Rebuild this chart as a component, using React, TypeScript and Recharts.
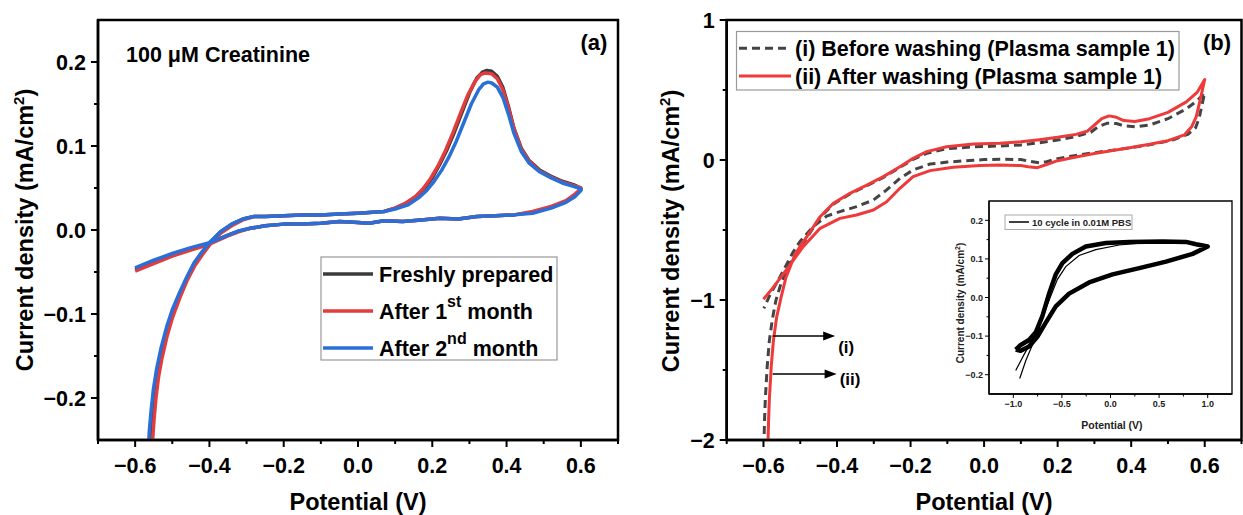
import React from 'react'
import { LineChart, Line, XAxis, YAxis, ReferenceArea, ReferenceLine } from 'recharts'

type Pt = [number, number]

// (a) 100 µM creatinine — potential (V), current density (mA/cm2), one closed scan each
const freshScan: Pt[] = [
  [-0.6, -0.047], [-0.55, -0.038], [-0.5, -0.03], [-0.45, -0.023], [-0.4, -0.016], [-0.37, -0.01],
  [-0.35, -0.006], [-0.32, -0.001], [-0.29, 0.002], [-0.25, 0.005], [-0.2, 0.007], [-0.15, 0.007],
  [-0.1, 0.008], [-0.05, 0.01], [0, 0.009], [0.03, 0.008], [0.07, 0.011], [0.12, 0.01], [0.17, 0.012],
  [0.22, 0.014], [0.27, 0.013], [0.32, 0.016], [0.37, 0.017], [0.42, 0.018], [0.47, 0.021], [0.52, 0.027],
  [0.56, 0.034], [0.585, 0.042], [0.6, 0.048], [0.6, 0.05], [0.58, 0.054], [0.55, 0.058], [0.52, 0.064],
  [0.49, 0.071], [0.46, 0.083], [0.44, 0.097], [0.42, 0.121], [0.405, 0.147], [0.39, 0.17], [0.375, 0.183],
  [0.36, 0.189], [0.347, 0.19], [0.335, 0.188], [0.32, 0.181], [0.3, 0.163], [0.28, 0.14], [0.26, 0.117],
  [0.24, 0.096], [0.22, 0.078], [0.2, 0.062], [0.18, 0.05], [0.16, 0.041], [0.13, 0.032], [0.1, 0.026],
  [0.07, 0.022], [0.04, 0.021], [0, 0.02], [-0.05, 0.019], [-0.1, 0.018], [-0.15, 0.018], [-0.2, 0.017],
  [-0.25, 0.016], [-0.28, 0.016], [-0.31, 0.013], [-0.34, 0.007], [-0.37, -0.002], [-0.4, -0.016],
  [-0.42, -0.028], [-0.44, -0.04], [-0.46, -0.057], [-0.48, -0.078], [-0.5, -0.1], [-0.515, -0.122],
  [-0.53, -0.148], [-0.54, -0.17], [-0.548, -0.195], [-0.554, -0.22], [-0.558, -0.245], [-0.561, -0.27],
]

const month1Scan: Pt[] = [
  [-0.6, -0.049], [-0.55, -0.04], [-0.5, -0.031], [-0.45, -0.024], [-0.4, -0.017], [-0.37, -0.011],
  [-0.35, -0.007], [-0.32, -0.002], [-0.29, 0.002], [-0.25, 0.005], [-0.2, 0.007], [-0.15, 0.007],
  [-0.1, 0.008], [-0.05, 0.01], [0, 0.009], [0.03, 0.008], [0.07, 0.011], [0.12, 0.01], [0.17, 0.012],
  [0.22, 0.014], [0.27, 0.013], [0.32, 0.016], [0.37, 0.017], [0.42, 0.018], [0.47, 0.022], [0.52, 0.028],
  [0.56, 0.035], [0.585, 0.043], [0.6, 0.049], [0.6, 0.05], [0.58, 0.053], [0.55, 0.057], [0.52, 0.063],
  [0.49, 0.07], [0.46, 0.082], [0.44, 0.096], [0.42, 0.12], [0.405, 0.145], [0.39, 0.167], [0.375, 0.18],
  [0.36, 0.186], [0.343, 0.187], [0.33, 0.185], [0.315, 0.177], [0.295, 0.16], [0.275, 0.138],
  [0.255, 0.115], [0.235, 0.094], [0.215, 0.076], [0.195, 0.061], [0.175, 0.049], [0.155, 0.04],
  [0.125, 0.031], [0.1, 0.026], [0.07, 0.022], [0.04, 0.021], [0, 0.02], [-0.05, 0.019], [-0.1, 0.018],
  [-0.15, 0.018], [-0.2, 0.017], [-0.25, 0.016], [-0.28, 0.016], [-0.31, 0.012], [-0.34, 0.005],
  [-0.37, -0.004], [-0.4, -0.018], [-0.42, -0.03], [-0.44, -0.043], [-0.46, -0.06], [-0.48, -0.081],
  [-0.5, -0.105], [-0.515, -0.128], [-0.528, -0.153], [-0.537, -0.175], [-0.544, -0.2], [-0.549, -0.225],
  [-0.553, -0.25], [-0.556, -0.27],
]

const month2Scan: Pt[] = [
  [-0.6, -0.045], [-0.55, -0.036], [-0.5, -0.028], [-0.45, -0.021], [-0.4, -0.015], [-0.37, -0.01],
  [-0.35, -0.006], [-0.32, -0.001], [-0.29, 0.002], [-0.25, 0.005], [-0.2, 0.007], [-0.15, 0.007],
  [-0.1, 0.008], [-0.05, 0.01], [0, 0.009], [0.03, 0.008], [0.07, 0.011], [0.12, 0.01], [0.17, 0.012],
  [0.22, 0.014], [0.27, 0.013], [0.32, 0.016], [0.37, 0.017], [0.42, 0.018], [0.47, 0.02], [0.52, 0.026],
  [0.56, 0.033], [0.585, 0.04], [0.6, 0.047], [0.6, 0.049], [0.58, 0.052], [0.55, 0.056], [0.52, 0.062],
  [0.49, 0.069], [0.46, 0.08], [0.44, 0.093], [0.42, 0.115], [0.405, 0.138], [0.39, 0.158], [0.375, 0.17],
  [0.36, 0.175], [0.35, 0.176], [0.338, 0.174], [0.325, 0.167], [0.305, 0.15], [0.285, 0.128],
  [0.265, 0.106], [0.245, 0.087], [0.225, 0.071], [0.205, 0.058], [0.185, 0.047], [0.165, 0.039],
  [0.135, 0.03], [0.1, 0.025], [0.07, 0.022], [0.04, 0.021], [0, 0.02], [-0.05, 0.019], [-0.1, 0.018],
  [-0.15, 0.018], [-0.2, 0.017], [-0.25, 0.016], [-0.28, 0.016], [-0.31, 0.013], [-0.34, 0.007],
  [-0.37, -0.002], [-0.4, -0.015], [-0.42, -0.026], [-0.44, -0.038], [-0.46, -0.055], [-0.48, -0.074],
  [-0.5, -0.095], [-0.515, -0.115], [-0.53, -0.14], [-0.542, -0.165], [-0.551, -0.19], [-0.557, -0.215],
  [-0.562, -0.24], [-0.565, -0.27],
]

// (b) plasma sample 1
const beforeWashScan: Pt[] = [
  [-0.599, -2.05], [-0.597, -1.85], [-0.595, -1.71], [-0.59, -1.48], [-0.584, -1.29], [-0.576, -1.14],
  [-0.566, -1.0], [-0.552, -0.88], [-0.536, -0.78], [-0.519, -0.7], [-0.482, -0.555], [-0.446, -0.41],
  [-0.41, -0.315], [-0.365, -0.243], [-0.319, -0.184], [-0.274, -0.124], [-0.229, -0.053], [-0.193, 0.005],
  [-0.156, 0.048], [-0.102, 0.08], [-0.029, 0.094], [0.043, 0.1], [0.1, 0.108], [0.15, 0.123], [0.2, 0.143],
  [0.25, 0.168], [0.29, 0.198], [0.31, 0.238], [0.335, 0.263], [0.36, 0.26], [0.38, 0.244], [0.41, 0.237],
  [0.45, 0.25], [0.5, 0.295], [0.55, 0.365], [0.58, 0.425], [0.6, 0.48], [0.593, 0.4], [0.585, 0.3],
  [0.575, 0.23], [0.555, 0.185], [0.52, 0.15], [0.5, 0.135], [0.45, 0.108], [0.4, 0.088], [0.35, 0.07],
  [0.3, 0.052], [0.25, 0.033], [0.2, 0.01], [0.17, -0.012], [0.15, -0.02], [0.125, -0.01], [0.1, 0.003],
  [0.05, 0.006], [0, 0.003], [-0.03, -0.002], [-0.1, -0.015], [-0.147, -0.029], [-0.193, -0.071],
  [-0.229, -0.131], [-0.265, -0.214], [-0.301, -0.286], [-0.347, -0.333], [-0.392, -0.369], [-0.428, -0.4],
  [-0.465, -0.476], [-0.501, -0.583], [-0.52, -0.66], [-0.54, -0.76], [-0.56, -0.86], [-0.58, -0.95],
  [-0.599, -1.06],
]

const afterWashScan: Pt[] = [
  [-0.588, -2.05], [-0.586, -1.85], [-0.584, -1.71], [-0.579, -1.48], [-0.573, -1.29], [-0.564, -1.12],
  [-0.552, -0.98], [-0.539, -0.84], [-0.527, -0.76], [-0.515, -0.68], [-0.5, -0.615], [-0.482, -0.548],
  [-0.446, -0.405], [-0.41, -0.31], [-0.365, -0.238], [-0.319, -0.179], [-0.274, -0.119], [-0.229, -0.048],
  [-0.193, 0.012], [-0.156, 0.06], [-0.102, 0.095], [-0.029, 0.114], [0.043, 0.119], [0.1, 0.13],
  [0.15, 0.145], [0.2, 0.162], [0.25, 0.183], [0.28, 0.205], [0.3, 0.25], [0.32, 0.295], [0.34, 0.315],
  [0.36, 0.305], [0.38, 0.282], [0.41, 0.275], [0.45, 0.295], [0.5, 0.34], [0.55, 0.415], [0.58, 0.485],
  [0.6, 0.575], [0.592, 0.48], [0.585, 0.4], [0.577, 0.31], [0.565, 0.24], [0.545, 0.18], [0.5, 0.138],
  [0.45, 0.112], [0.4, 0.09], [0.35, 0.068], [0.3, 0.046], [0.25, 0.022], [0.2, -0.005], [0.17, -0.032],
  [0.145, -0.055], [0.12, -0.048], [0.1, -0.04], [0.043, -0.036], [-0.011, -0.04], [-0.084, -0.052],
  [-0.147, -0.076], [-0.193, -0.119], [-0.229, -0.202], [-0.265, -0.298], [-0.301, -0.357], [-0.347, -0.393],
  [-0.392, -0.417], [-0.446, -0.488], [-0.492, -0.619], [-0.52, -0.72], [-0.548, -0.82], [-0.575, -0.915],
  [-0.6, -0.995],
]

// inset: 10 cycles in 0.01 M PBS
const pbsLoop: Pt[] = [
  [-0.975, -0.135], [-0.924, -0.123], [-0.838, -0.11], [-0.769, -0.09], [-0.701, -0.048], [-0.632, 0.01],
  [-0.563, 0.06], [-0.495, 0.089], [-0.392, 0.113], [-0.254, 0.132], [-0.047, 0.141], [0.193, 0.144],
  [0.536, 0.145], [0.777, 0.144], [0.88, 0.138], [1.0, 0.132], [0.845, 0.113], [0.571, 0.093],
  [0.296, 0.076], [0.021, 0.06], [-0.22, 0.039], [-0.426, 0.01], [-0.563, -0.023], [-0.666, -0.065],
  [-0.753, -0.102], [-0.838, -0.127], [-0.924, -0.138], [-0.975, -0.135],
]
const pbsFirstCycle: Pt[] = [
  [-0.975, -0.189], [-0.89, -0.148], [-0.804, -0.11], [-0.718, -0.065], [-0.632, -0.007], [-0.546, 0.047],
  [-0.46, 0.08], [-0.323, 0.109], [-0.151, 0.124], [0.09, 0.136], [0.365, 0.142], [0.5, 0.144],
]
const pbsTail: Pt[] = [[-0.934, -0.21], [-0.872, -0.164], [-0.804, -0.123], [-0.76, -0.1]]

// axes
const potTicks = [-0.7, -0.6, -0.5, -0.4, -0.3, -0.2, -0.1, 0, 0.1, 0.2, 0.3, 0.4, 0.5, 0.6, 0.7]
const potMajor = [-0.6, -0.4, -0.2, 0, 0.2, 0.4, 0.6]
const potLabels = ['−0.6', '−0.4', '−0.2', '0.0', '0.2', '0.4', '0.6']
const aCurTicks = [-0.2, -0.15, -0.1, -0.05, 0, 0.05, 0.1, 0.15, 0.2]
const aCurMajor = [-0.2, -0.1, 0, 0.1, 0.2]
const aCurLabels = ['−0.2', '−0.1', '0.0', '0.1', '0.2']
const bCurTicks = [-2, -1.5, -1, -0.5, 0, 0.5, 1]
const bCurMajor = [-2, -1, 0, 1]
const bCurLabels = ['−2', '−1', '0', '1']
const insetPotTicks = [-1, -0.75, -0.5, -0.25, 0, 0.25, 0.5, 0.75, 1]
const insetPotMajor = [-1, -0.5, 0, 0.5, 1]
const insetPotLabels = ['−1.0', '−0.5', '0.0', '0.5', '1.0']
const insetCurTicks = [-0.2, -0.15, -0.1, -0.05, 0, 0.05, 0.1, 0.15, 0.2]
const insetCurMajor = [-0.2, -0.1, 0, 0.1, 0.2]
const insetCurLabels = ['−0.2', '−0.1', '0.0', '0.1', '0.2']

const arrows = [
  { label: '(i)', from: -0.575, to: -0.405, j: -1.257 },
  { label: '(ii)', from: -0.575, to: -0.401, j: -1.529 },
]
const arrowLabelDy: Record<string, number> = { '(i)': 17, '(ii)': 11 }

const aLegend = [
  { base: 'Freshly prepared', sup: '', rest: '', color: '#3b3b3b' },
  { base: 'After 1', sup: 'st', rest: ' month', color: '#e23c3c' },
  { base: 'After 2', sup: 'nd', rest: ' month', color: '#2a6fd8' },
]
const bLegend = [
  { name: '(i) Before washing (Plasma sample 1)', color: '#444', dash: '8 5' },
  { name: '(ii) After washing (Plasma sample 1)', color: '#ee3a3a', dash: undefined },
]

const rows = (pts: Pt[]) => pts.map(([e, j]) => ({ e, j }))
const near = (a: number, b: number) => Math.abs(a - b) < 1e-6

type TickOpt = {
  majors: number[]
  labels: string[]
  size: number
  major: number
  minor: number
  gap: number
  sw: number
  color: string
}

// tickSize and tickMargin are 0, so x/y arrive on the axis line itself
const bottomTick = (o: TickOpt) => (p: any) => {
  const k = o.majors.findIndex((m) => near(m, p.payload.value))
  return (
    <g>
      <line x1={p.x} y1={p.y} x2={p.x} y2={p.y + (k >= 0 ? o.major : o.minor)} stroke="#000" strokeWidth={o.sw} />
      {k >= 0 && (
        <text x={p.x} y={p.y + o.gap} textAnchor="middle" fontSize={o.size} fontWeight="bold" fill={o.color}>
          {o.labels[k]}
        </text>
      )}
    </g>
  )
}

const leftTick = (o: TickOpt) => (p: any) => {
  const k = o.majors.findIndex((m) => near(m, p.payload.value))
  return (
    <g>
      <line x1={p.x} y1={p.y} x2={p.x - (k >= 0 ? o.major : o.minor)} y2={p.y} stroke="#000" strokeWidth={o.sw} />
      {k >= 0 && (
        <text x={p.x - o.gap} y={p.y + o.size * 0.36} textAnchor="end" fontSize={o.size} fontWeight="bold" fill={o.color}>
          {o.labels[k]}
        </text>
      )}
    </g>
  )
}

const mainTick = { size: 21.5, major: 7, minor: 4, sw: 2, color: '#000' }
const insetTick = { size: 9, major: 4, minor: 2.5, sw: 1, color: '#222' }

const arrowShape = (label: string) => (p: any) => (
  <g>
    <line x1={p.x1} y1={p.y1} x2={p.x2 - 8} y2={p.y2} stroke="#000" strokeWidth={1.6} />
    <polygon points={`${p.x2},${p.y2} ${p.x2 - 12},${p.y2 - 4.5} ${p.x2 - 12},${p.y2 + 4.5}`} fill="#000" />
    <text x={p.x2 + 3} y={p.y2 + arrowLabelDy[label]} fontSize={17} fontWeight="bold" fill="#000">
      {label}
    </text>
  </g>
)

export default function App() {
  const font = "'Liberation Sans', Arial, Helvetica, sans-serif"
  return (
    <div style={{ position: 'absolute', left: 0, top: 0, width: 1243, height: 515, background: '#fff', fontFamily: font, overflow: 'hidden' }}>
      {/* panel (a) */}
      <div style={{ position: 'absolute', left: 0, top: 0 }}>
        <LineChart width={640} height={515} margin={{ top: 20, right: 22, bottom: 35, left: 38 }}>
          <XAxis
            dataKey="e"
            type="number"
            domain={[-0.7, 0.7]}
            allowDataOverflow
            ticks={potTicks}
            interval={0}
            height={40}
            tickSize={0}
            tickMargin={0}
            axisLine={{ stroke: '#000', strokeWidth: 2.5 }}
            tick={bottomTick({ ...mainTick, majors: potMajor, labels: potLabels, gap: 32.5 })}
          />
          <YAxis
            dataKey="j"
            type="number"
            domain={[-0.25, 0.25]}
            allowDataOverflow
            ticks={aCurTicks}
            interval={0}
            width={60}
            tickSize={0}
            tickMargin={0}
            axisLine={{ stroke: '#000', strokeWidth: 2.5 }}
            tick={leftTick({ ...mainTick, majors: aCurMajor, labels: aCurLabels, gap: 12 })}
          />
          <ReferenceArea x1={-0.7} x2={0.7} y1={-0.25} y2={0.25} fill="none" stroke="#000" strokeWidth={2.5} />
          <Line data={rows(freshScan)} dataKey="j" type="linear" stroke="#3b3b3b" strokeWidth={3.5} dot={false} activeDot={false} isAnimationActive={false} strokeLinejoin="round" />
          <Line data={rows(month1Scan)} dataKey="j" type="linear" stroke="#e23c3c" strokeWidth={3.5} dot={false} activeDot={false} isAnimationActive={false} strokeLinejoin="round" />
          <Line data={rows(month2Scan)} dataKey="j" type="linear" stroke="#2a6fd8" strokeWidth={3.5} dot={false} activeDot={false} isAnimationActive={false} strokeLinejoin="round" />
        </LineChart>
      </div>

      {/* panel (b) */}
      <div style={{ position: 'absolute', left: 640, top: 0 }}>
        <LineChart width={603} height={515} margin={{ top: 20, right: 1.5, bottom: 35, left: 26.7 }}>
          <XAxis
            dataKey="e"
            type="number"
            domain={[-0.7, 0.7]}
            allowDataOverflow
            ticks={potTicks}
            interval={0}
            height={40}
            tickSize={0}
            tickMargin={0}
            axisLine={{ stroke: '#000', strokeWidth: 2.5 }}
            tick={bottomTick({ ...mainTick, majors: potMajor, labels: potLabels, gap: 32.5 })}
          />
          <YAxis
            dataKey="j"
            type="number"
            domain={[-2, 1]}
            allowDataOverflow
            ticks={bCurTicks}
            interval={0}
            width={60}
            tickSize={0}
            tickMargin={0}
            axisLine={{ stroke: '#000', strokeWidth: 2.5 }}
            tick={leftTick({ ...mainTick, majors: bCurMajor, labels: bCurLabels, gap: 12 })}
          />
          <ReferenceArea x1={-0.7} x2={0.7} y1={-2} y2={1} fill="none" stroke="#000" strokeWidth={2.5} />
          <Line data={rows(beforeWashScan)} dataKey="j" type="linear" stroke="#444" strokeWidth={3} strokeDasharray="8 5" dot={false} activeDot={false} isAnimationActive={false} />
          <Line data={rows(afterWashScan)} dataKey="j" type="linear" stroke="#ee3a3a" strokeWidth={3} dot={false} activeDot={false} isAnimationActive={false} strokeLinejoin="round" />
          {arrows.map((a) => (
            <ReferenceLine
              key={a.label}
              segment={[{ x: a.from, y: a.j }, { x: a.to, y: a.j }]}
              shape={arrowShape(a.label)}
            />
          ))}
        </LineChart>
      </div>

      {/* inset */}
      <div style={{ position: 'absolute', left: 989, top: 201, width: 243, height: 203, background: '#fff' }} />
      <div style={{ position: 'absolute', left: 930, top: 190 }}>
        <LineChart width={313} height={250} margin={{ top: 11, right: 11, bottom: 26, left: 29 }}>
          <XAxis
            dataKey="e"
            type="number"
            domain={[-1.25, 1.25]}
            allowDataOverflow
            ticks={insetPotTicks}
            interval={0}
            height={20}
            tickSize={0}
            tickMargin={0}
            axisLine={{ stroke: '#000', strokeWidth: 1.3 }}
            tick={bottomTick({ ...insetTick, majors: insetPotMajor, labels: insetPotLabels, gap: 13 })}
          />
          <YAxis
            dataKey="j"
            type="number"
            domain={[-0.25, 0.25]}
            allowDataOverflow
            ticks={insetCurTicks}
            interval={0}
            width={30}
            tickSize={0}
            tickMargin={0}
            axisLine={{ stroke: '#000', strokeWidth: 1.3 }}
            tick={leftTick({ ...insetTick, majors: insetCurMajor, labels: insetCurLabels, gap: 6 })}
          />
          <ReferenceArea x1={-1.25} x2={1.25} y1={-0.25} y2={0.25} fill="none" stroke="#000" strokeWidth={1.3} />
          <Line data={rows(pbsLoop)} dataKey="j" type="linear" stroke="#000" strokeWidth={4.5} dot={false} activeDot={false} isAnimationActive={false} strokeLinejoin="round" />
          <Line data={rows(pbsFirstCycle)} dataKey="j" type="linear" stroke="#000" strokeWidth={1.2} dot={false} activeDot={false} isAnimationActive={false} />
          <Line data={rows(pbsTail)} dataKey="j" type="linear" stroke="#000" strokeWidth={1.2} dot={false} activeDot={false} isAnimationActive={false} />
        </LineChart>
      </div>

      {/* titles, legends, labels */}
      <svg width={1243} height={515} style={{ position: 'absolute', left: 0, top: 0, pointerEvents: 'none' }} fontFamily={font} fontWeight="bold">
        <text transform="translate(33,230) rotate(-90)" textAnchor="middle" fontSize={23.5}>
          Current density (mA/cm<tspan dy={-9} fontSize={15}>2</tspan><tspan dy={9}>)</tspan>
        </text>
        <text transform="translate(678.5,231) rotate(-90)" textAnchor="middle" fontSize={23.5}>
          Current density (mA/cm<tspan dy={-9} fontSize={15}>2</tspan><tspan dy={9}>)</tspan>
        </text>
        <text x={358} y={510} textAnchor="middle" fontSize={23.5}>Potential (V)</text>
        <text x={984} y={510} textAnchor="middle" fontSize={23.5}>Potential (V)</text>
        <text x={126} y={62} fontSize={21.5}>100 μM Creatinine</text>
        <text x={594} y={50} textAnchor="middle" fontSize={22}>(a)</text>
        <text x={1217} y={50} textAnchor="middle" fontSize={22}>(b)</text>

        <rect x={321} y={257} width={236} height={103} fill="#fff" stroke="#999" strokeWidth={1.2} />
        {aLegend.map((s, i) => {
          const cy = 274 + i * 37
          return (
            <g key={s.base}>
              <line x1={323} x2={373} y1={cy} y2={cy} stroke={s.color} strokeWidth={3.5} />
              <text x={379} y={cy + 7.7} fontSize={21.5}>
                {s.base}
                {s.sup && <tspan dy={-12} fontSize={16}>{s.sup}</tspan>}
                {s.rest && <tspan dy={12}>{s.rest}</tspan>}
              </text>
            </g>
          )
        })}

        <rect x={736.5} y={31.5} width={442.5} height={58.5} fill="#fff" stroke="#999" strokeWidth={1.2} />
        {bLegend.map((s, i) => {
          const cy = 48.3 + i * 27.7
          return (
            <g key={s.name}>
              <line x1={739} x2={791} y1={cy} y2={cy} stroke={s.color} strokeWidth={3} strokeDasharray={s.dash} />
              <text x={795} y={cy + 7.7} fontSize={21.5}>{s.name}</text>
            </g>
          )
        })}

        <rect x={1005} y={215} width={127} height={14.5} fill="#fff" stroke="#aaa" strokeWidth={1} />
        <line x1={1009} x2={1029} y1={222} y2={222} stroke="#000" strokeWidth={1.5} />
        <text x={1032} y={225.5} fontSize={9.5} fill="#222">10 cycle in 0.01M PBS</text>
        <text x={1112} y={429} textAnchor="middle" fontSize={10.5} fill="#222">Potential (V)</text>
        <text transform="translate(964,303) rotate(-90)" textAnchor="middle" fontSize={10} fill="#222">
          Current density (mA/cm<tspan dy={-4} fontSize={7}>2</tspan><tspan dy={4}>)</tspan>
        </text>
      </svg>
    </div>
  )
}
